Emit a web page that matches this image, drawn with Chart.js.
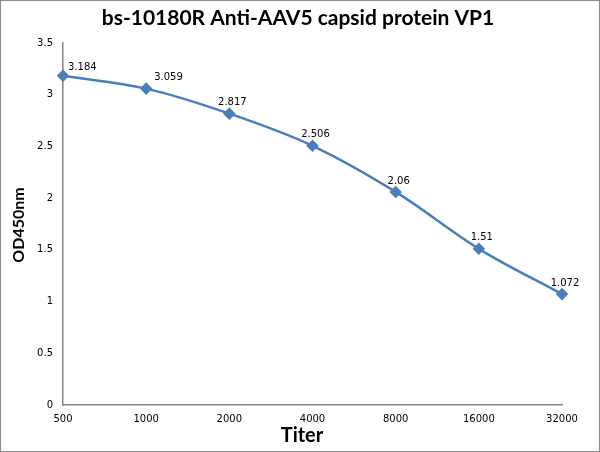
<!DOCTYPE html>
<html>
<head>
<meta charset="utf-8">
<script src="https://cdn.jsdelivr.net/npm/chart.js@4/dist/chart.umd.min.js"></script>
<style>
  body { margin: 0; background: #fff; }
  #wrap { width: 600px; height: 452px; }
</style>
</head>
<body>
<div id="wrap"><canvas id="od_chart"></canvas></div>
<script>
// titers and measured OD450 values
const titers = ['500', '1000', '2000', '4000', '8000', '16000', '32000'];
const odValues = [3.184, 3.059, 2.817, 2.506, 2.06, 1.51, 1.072];
const valueLabels = ['3.184', '3.059', '2.817', '2.506', '2.06', '1.51', '1.072'];
const yTicks = [0, 0.5, 1, 1.5, 2, 2.5, 3, 3.5];

const chartTitle = 'bs-10180R Anti-AAV5 capsid protein VP1';
const xTitle = 'Titer';
const yTitle = 'OD450nm';

// frame round the whole picture plus the three titles
const chartTexts = {
    id: 'chartTexts',
    afterDraw(chart) {
        const {ctx, width, height} = chart;
        ctx.save();
        ctx.strokeStyle = '#8c8c8c';
        ctx.lineWidth = 1;
        ctx.strokeRect(0.5, 0.5, width - 1, height - 1);

        ctx.fillStyle = '#000';
        ctx.textAlign = 'center';
        ctx.textBaseline = 'middle';
        ctx.font = 'bold 21px Lato';
        ctx.fillText(chartTitle, 298, 18);

        ctx.font = 'bold 20px Lato';
        ctx.fillText(xTitle, 302, 436);

        ctx.translate(19, 225);
        ctx.rotate(-Math.PI / 2);
        ctx.font = 'bold 16px Lato';
        ctx.fillText(yTitle, 0, 0);
        ctx.restore();
    }
};

const pointLabels = {
    id: 'pointLabels',
    afterDatasetsDraw(chart) {
        const {ctx} = chart;
        const meta = chart.getDatasetMeta(0);
        ctx.save();
        ctx.font = '10px "DejaVu Sans"';
        ctx.fillStyle = '#000';
        ctx.textBaseline = 'middle';
        meta.data.forEach((pt, i) => {
            if (i < 2) {
                ctx.textAlign = 'left';
                ctx.fillText(valueLabels[i], pt.x + 5 + i * 3, pt.y - 8 - i * 3);
            } else {
                ctx.textAlign = 'center';
                ctx.fillText(valueLabels[i], pt.x + 3, pt.y - 11);
            }
        });
        ctx.restore();
    }
};

const ctx = document.getElementById('od_chart').getContext('2d');
let odChart = new Chart(ctx, {
    type: 'line',
    data: {
        labels: titers,
        datasets: [{
            data: odValues,
            borderColor: '#4a7ebb',
            backgroundColor: '#4a7ebb',
            borderWidth: 2.5,
            tension: 0.35,
            pointStyle: 'rectRot',
            pointRadius: 4.5,
            pointHoverRadius: 4.5
        }]
    },
    plugins: [pointLabels, chartTexts],
    options: {
        responsive: true,
        maintainAspectRatio: false,
        animation: false,
        layout: {
            padding: {top: 43, left: 5, right: 38, bottom: 6}
        },
        plugins: {
            legend: {display: false},
            tooltip: {enabled: false}
        },
        scales: {
            x: {
                grid: {display: false, drawTicks: false},
                border: {display: true, color: '#868686', width: 1.5},
                ticks: {
                    color: '#000',
                    font: {family: '"DejaVu Sans"', size: 10},
                    padding: 8,
                    maxRotation: 0,
                    autoSkip: false
                },
                afterFit(scale) { scale.height = 41; }
            },
            y: {
                min: 0,
                max: 3.5,
                grid: {display: false, drawTicks: false},
                border: {display: true, color: '#868686', width: 1.5},
                afterBuildTicks(scale) {
                    scale.ticks = yTicks.map(v => ({value: v}));
                },
                ticks: {
                    color: '#000',
                    font: {family: '"DejaVu Sans"', size: 10},
                    padding: 10,
                    callback: v => String(v)
                },
                afterFit(scale) { scale.width = 58; }
            }
        }
    }
});
</script>
</body>
</html>
